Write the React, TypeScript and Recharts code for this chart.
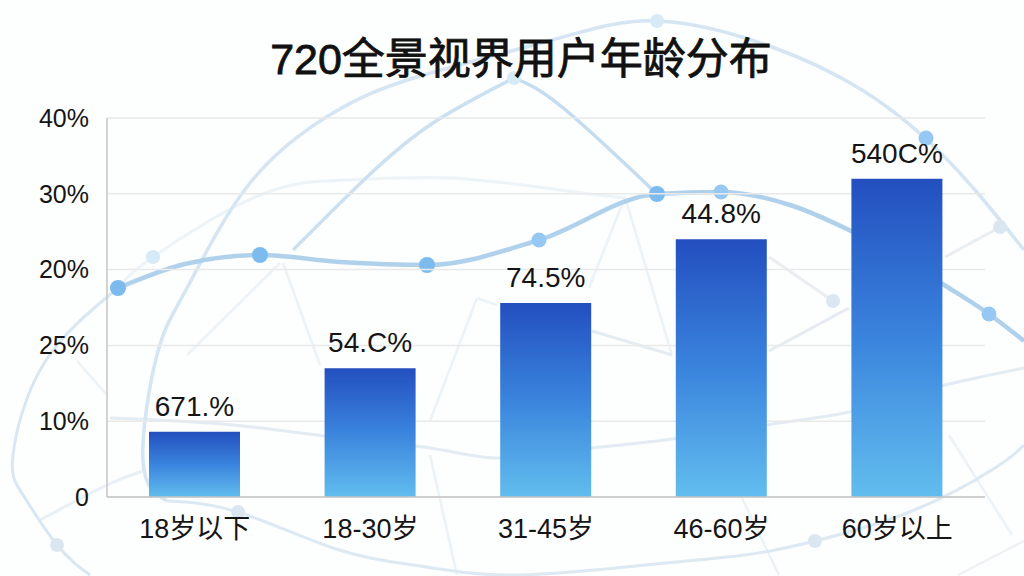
import React from "react";
import {
  BarChart,
  Bar,
  CartesianGrid,
  LabelList,
  Line,
  LineChart,
  XAxis,
  YAxis,
} from "recharts";

const categories = ["18岁以下", "18-30岁", "31-45岁", "46-60岁", "60岁以上"];
const values = [8.6, 17, 25.6, 34, 42];
const barLabels = ["671.%", "54.C%", "74.5%", "44.8%", "540C%"];
const yTicks = [0, 10, 20, 30, 40, 50];
const yTickLabels = ["0", "10%", "25%", "20%", "30%", "40%"];

// background curves in page pixels
type Pt = { x: number; y: number };
const mainCurve: Pt[] = [
  { x: 118, y: 288 }, { x: 185, y: 264 }, { x: 260, y: 255 }, { x: 340, y: 262 }, { x: 427, y: 265 },
  { x: 539, y: 240 }, { x: 657, y: 194 }, { x: 721, y: 192 }, { x: 790, y: 205 }, { x: 849, y: 230 },
  { x: 949, y: 288 }, { x: 989, y: 314 }, { x: 1024, y: 341 },
];
const leftLoop: Pt[] = [
  { x: 118, y: 288 }, { x: 43, y: 365 }, { x: 13, y: 455 }, { x: 23, y: 495 }, { x: 57, y: 545 }, { x: 90, y: 575 },
];
const bigArc: Pt[] = [
  { x: 167, y: 501 }, { x: 143, y: 461 }, { x: 157, y: 355 }, { x: 187, y: 288 }, { x: 250, y: 183 },
  { x: 333, y: 113 }, { x: 417, y: 77 }, { x: 552, y: 40 }, { x: 657, y: 21 }, { x: 772, y: 47 },
  { x: 862, y: 90 }, { x: 925, y: 138 }, { x: 975, y: 190 }, { x: 1024, y: 250 },
];
const bottomArc: Pt[] = [
  { x: 167, y: 501 }, { x: 238, y: 512 }, { x: 333, y: 548 }, { x: 413, y: 565 }, { x: 512, y: 575 },
  { x: 645, y: 565 }, { x: 745, y: 555 }, { x: 815, y: 541 }, { x: 912, y: 511 }, { x: 995, y: 468 }, { x: 1024, y: 445 },
];
const peakUp: Pt[] = [
  { x: 293, y: 250 }, { x: 367, y: 177 }, { x: 433, y: 123 }, { x: 514, y: 78 },
];
const peakDown: Pt[] = [
  { x: 514, y: 78 }, { x: 562, y: 107 }, { x: 657, y: 194 },
];
const fadedCurve: Pt[] = [
  { x: 118, y: 288 }, { x: 153, y: 257 }, { x: 260, y: 195 }, { x: 350, y: 180 }, { x: 450, y: 178 }, { x: 560, y: 190 }, { x: 625, y: 198 },
];
const midCurve: Pt[] = [
  { x: 110, y: 418 }, { x: 233, y: 425 }, { x: 317, y: 435 }, { x: 430, y: 448 }, { x: 497, y: 458 },
  { x: 592, y: 448 }, { x: 665, y: 440 }, { x: 779, y: 423 }, { x: 845, y: 413 }, { x: 945, y: 385 }, { x: 1024, y: 368 },
];
const lowLeft: Pt[] = [{ x: 40, y: 520 }, { x: 107, y: 485 }, { x: 143, y: 471 }];
const sideA: Pt[] = [{ x: 592, y: 331 }, { x: 672, y: 355 }];
const sideB: Pt[] = [{ x: 769, y: 351 }, { x: 849, y: 308 }];
const sideC: Pt[] = [{ x: 945, y: 257 }, { x: 1000, y: 227 }];
const sideD: Pt[] = [{ x: 769, y: 257 }, { x: 833, y: 301 }];
const faintLines: Pt[][] = [
  [{ x: 430, y: 421 }, { x: 477, y: 298 }],
  [{ x: 477, y: 298 }, { x: 497, y: 305 }],
  [{ x: 430, y: 455 }, { x: 457, y: 575 }],
  [{ x: 625, y: 197 }, { x: 589, y: 288 }],
  [{ x: 625, y: 197 }, { x: 672, y: 355 }],
  [{ x: 742, y: 498 }, { x: 779, y: 575 }],
  [{ x: 283, y: 263 }, { x: 320, y: 365 }],
  [{ x: 280, y: 263 }, { x: 187, y: 355 }],
  [{ x: 107, y: 395 }, { x: 77, y: 361 }],
  [{ x: 949, y: 435 }, { x: 1012, y: 535 }],
  [{ x: 1024, y: 541 }, { x: 958, y: 575 }],
];
const strongDots: Pt[] = [
  { x: 118, y: 288 }, { x: 260, y: 255 }, { x: 427, y: 265 }, { x: 657, y: 194 },
];
const mediumDots: Pt[] = [
  { x: 539, y: 240 }, { x: 721, y: 192 }, { x: 926, y: 138 }, { x: 989, y: 314 },
];
const paleDots: Pt[] = [
  { x: 153, y: 257 }, { x: 514, y: 78 }, { x: 657, y: 21 },
];
const greyDots: Pt[] = [
  { x: 57, y: 545 }, { x: 238, y: 512 }, { x: 815, y: 541 }, { x: 833, y: 301 }, { x: 1000, y: 227 },
];

const tableData = categories.map((name, i) => ({
  name,
  value: values[i],
  label: barLabels[i],
}));

const fontFamily = '"Liberation Sans", "Noto Sans CJK SC", sans-serif';

export default function App() {
  const trail = (points: Pt[], color: string, width: number, key: string, type: any = "natural") => (
    <Line
      key={key}
      data={points}
      dataKey="y"
      type={type}
      stroke={color}
      strokeWidth={width}
      dot={false}
      activeDot={false}
      isAnimationActive={false}
    />
  );
  const dots = (points: Pt[], color: string, r: number, key: string) => (
    <Line
      key={key}
      data={points}
      dataKey="y"
      stroke="none"
      dot={{ r, fill: color, stroke: "none" }}
      activeDot={false}
      isAnimationActive={false}
    />
  );

  return (
    <div style={{ position: "absolute", left: 0, top: 0, width: 1024, height: 576, background: "#fdfefe", overflow: "hidden" }}>
      <div style={{ position: "absolute", left: 0, top: 0 }}>
        <LineChart width={1024} height={576} margin={{ top: 0, right: 0, bottom: 0, left: 0 }}>
          <XAxis type="number" dataKey="x" domain={[0, 1024]} hide />
          <YAxis type="number" domain={[0, 576]} reversed hide />
          {faintLines.map((p, i) => trail(p, "#ebf3f7", 2.5, `faint${i}`))}
          {trail(fadedCurve, "#edf4f8", 3, "faded")}
          {trail(lowLeft, "#e8f0f5", 3, "lowLeft")}
          {trail(sideA, "#e4ecf1", 3, "sideA")}
          {trail(sideB, "#e4ecf1", 3, "sideB")}
          {trail(sideC, "#e8eef1", 3, "sideC")}
          {trail(sideD, "#e8eef1", 3, "sideD")}
          {trail(midCurve, "#e3ecf2", 3, "mid", "monotone")}
          {trail(bottomArc, "#dde9f2", 3, "bottom")}
          {trail(leftLoop, "#d9e7f2", 3, "loop")}
          {trail(bigArc, "#d5e5f2", 3.5, "arc")}
          {trail(peakUp, "#cbe0f0", 3.5, "peakUp")}
          {trail(peakDown, "#c3dcef", 3.5, "peakDown")}
          {trail(mainCurve, "#b0d1ec", 4.5, "main", "monotone")}
          {dots(paleDots, "#d6ebf7", 7, "paleDots")}
          {dots(greyDots, "#dbe7f0", 7, "greyDots")}
          {dots(mediumDots, "#95c8f2", 7.5, "mediumDots")}
          {dots(strongDots, "#7dbbee", 8, "strongDots")}
        </LineChart>
      </div>

      <div
        style={{
          position: "absolute",
          left: 0,
          top: 31,
          width: 1042,
          textAlign: "center",
          fontFamily,
          fontSize: 43,
          fontWeight: 400,
          color: "#111111",
          lineHeight: "56px",
          WebkitTextStroke: "0.8px #111111",
        }}
      >
        720全景视界用户年龄分布
      </div>

      <div style={{ position: "absolute", left: 0, top: 0 }}>
        <BarChart
          width={1024}
          height={576}
          data={tableData}
          margin={{ top: 118, right: 39, bottom: 0, left: 0 }}
        >
          <defs>
            <linearGradient id="barFill" x1="0" y1="0" x2="0" y2="1">
              <stop offset="0%" stopColor="#234fbf" />
              <stop offset="50%" stopColor="#3a84dd" />
              <stop offset="100%" stopColor="#62bdee" />
            </linearGradient>
          </defs>
          <CartesianGrid vertical={false} stroke="#e9e9e9" strokeWidth={1.5} />
          <XAxis
            dataKey="name"
            height={79}
            tickLine={false}
            axisLine={{ stroke: "#c4c4c4", strokeWidth: 1.5 }}
            tickMargin={16}
            tick={{ fill: "#151515", fontSize: 27, fontFamily }}
            interval={0}
          />
          <YAxis
            width={107}
            domain={[0, 50]}
            ticks={yTicks}
            interval={0}
            tickLine={false}
            axisLine={{ stroke: "#c4c4c4", strokeWidth: 1.5 }}
            tickMargin={12}
            tick={{ fill: "#151515", fontSize: 25, fontFamily }}
            tickFormatter={(v: number) => yTickLabels[yTicks.indexOf(v)]}
          />
          <Bar dataKey="value" fill="url(#barFill)" barSize={91} isAnimationActive={false}>
            <LabelList
              dataKey="label"
              position="top"
              offset={16}
              fill="#151515"
              fontSize={28}
              fontFamily={fontFamily}
            />
          </Bar>
        </BarChart>
      </div>
    </div>
  );
}
